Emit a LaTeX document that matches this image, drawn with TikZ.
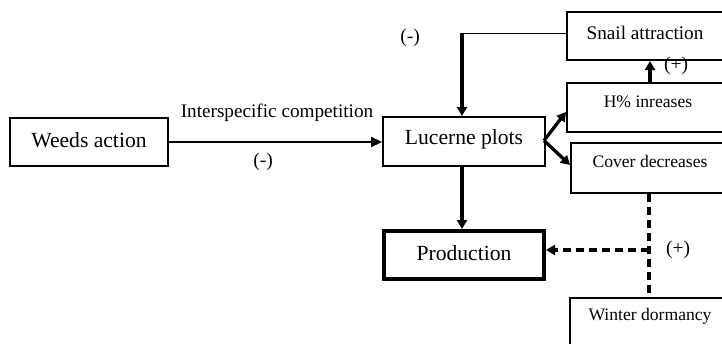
\documentclass[tikz,border=0pt]{standalone}
\usepackage{fontspec}
\setmainfont{Liberation Serif}
\usetikzlibrary{arrows.meta,calc}
\begin{document}
\begin{tikzpicture}[x=1pt,y=-1pt,
  box/.style={draw=black,line width=2pt,minimum width=#1,inner sep=0pt},
  big/.style={font=\fontsize{21.6}{23}\selectfont,inner sep=0pt},
  small/.style={font=\fontsize{17.6}{19}\selectfont,inner sep=0pt},
  lab/.style={font=\fontsize{19.5}{21}\selectfont,inner sep=0pt},
  arr/.style={line width=3.3pt,-{Triangle[length=9pt,width=10pt]}},
  dsh/.style={line width=3.3pt,dash pattern=on 8pt off 5pt}]
\useasboundingbox (0,0) rectangle (722,343);
% boxes
\node[box=158pt,minimum height=48pt] (weeds) at (89,142) {};
\node[big] (weedst) at (89,140) {Weeds action};
\node[box=162pt,minimum height=49pt] (luc) at (464,141.5) {};
\node[big] (luct) at (464,139) {Lucerne plots};
\node[draw=black,line width=4pt,minimum width=160pt,minimum height=48pt,inner sep=0pt] (prod) at (464,255) {};
\node[big] (prodt) at (464,253) {Production};
\node[box=161pt,minimum height=48pt] (snail) at (647.5,36) {};
\node[small,font=\fontsize{19.2}{20}\selectfont] (snailt) at (645,33) {Snail attraction};
\node[box=161pt,minimum height=49pt] (hum) at (647.5,107.5) {};
\node[small] (humt) at (648,102) {H\% inreases};
\node[box=158pt,minimum height=50pt] (cov) at (650,168) {};
\node[small] (covt) at (650,161) {Cover decreases};
\node[box=160pt,minimum height=62pt] (win) at (650,329) {};
\node[small] (wint) at (650,316) {Winter dormancy};
% connectors
\draw[line width=2.2pt,-{Triangle[length=11pt,width=10pt]}] (weeds.east) -- (weeds.east -| luc.west);
\node[small,font=\fontsize{19.2}{20}\selectfont] (ic) at (277,113) {Interspecific competition};
\node[lab] (m1) at (263,162) {(-)};
\coordinate (corner) at (462,33);
\draw[line width=1pt] (snail.west |- corner) -- (corner);
\draw[arr] (corner) -- (corner |- luc.north);
\node[lab] (m2) at (410,38) {(-)};
\draw[arr] ($(luc.east)+(-2,-1)$) -- (hum.west |- 0,112);
\draw[arr] ($(luc.east)+(-2,-1)$) -- (cov.west |- 0,165);
\draw[arr] (hum.north -| 650,0) -- (snail.south -| 650,0);
\node[lab] (p1) at (676,66) {(+)};
\draw[arr] (luc.south -| corner) -- (prod.north -| corner);
\coordinate (dj) at (649,250);
\draw[dsh] (cov.south -| dj) -- (win.north -| dj);
\draw[dsh,-{Triangle[length=9pt,width=10pt]}] (dj) -- (dj -| prod.east);
\node[lab] (p2) at (678,250) {(+)};
\end{tikzpicture}
\end{document}
